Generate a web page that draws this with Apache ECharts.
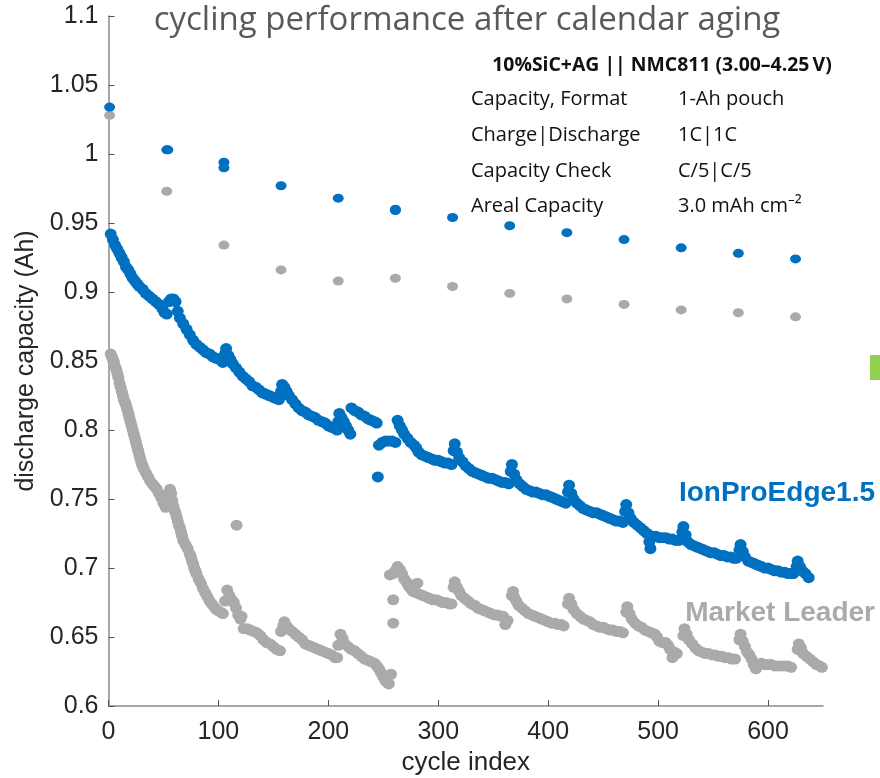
<!DOCTYPE html>
<html><head><meta charset="utf-8">
<script src="https://cdn.jsdelivr.net/npm/echarts@6/dist/echarts.min.js"></script>
<style>html,body{margin:0;padding:0;background:#fff}#c{width:880px;height:778px}</style>
</head><body><div id="c"></div>
<script>
// ---- axis ticks ----
const xTicks = [0, 100, 200, 300, 400, 500, 600];
const yTicks = [0.6, 0.65, 0.7, 0.75, 0.8, 0.85, 0.9, 0.95, 1, 1.05, 1.1];
const yTickLabels = ['0.6', '0.65', '0.7', '0.75', '0.8', '0.85', '0.9', '0.95', '1', '1.05', '1.1'];

// ---- texts ----
const titleText = 'cycling performance after calendar aging';
const xAxisName = 'cycle index';
const yAxisName = 'discharge capacity (Ah)';
const boxHeader = '10%SiC+AG || NMC811 (3.00\u20134.25\u2009V)';
const boxLabels = ['Capacity, Format', 'Charge|Discharge', 'Capacity Check', 'Areal Capacity'];
const boxValues = ['1-Ah pouch', '1C|1C', 'C/5|C/5', '3.0 mAh cm\u207B\u00B2'];
const seriesNames = ['IonProEdge1.5', 'Market Leader'];

// ---- capacity checks (C/5) [cycle, Ah] ----
const blueCheck = [[1,1.034],[53,1.003],[54,1.003],[105,0.994],[105,0.990],[157,0.977],[209,0.968],[261,0.960],[261,0.959],[313,0.954],[365,0.948],[417,0.943],[469,0.938],[521,0.932],[573,0.928],[625,0.924]];
const grayCheck = [[1,1.028],[53,0.973],[105,0.934],[157,0.916],[209,0.908],[261,0.910],[313,0.904],[365,0.899],[417,0.895],[469,0.891],[521,0.887],[573,0.885],[625,0.882]];

// ---- 1C cycling, IonProEdge1.5 [cycle, Ah] ----
const blueCycling = [[2,0.942],[4,0.938],[6,0.934],[8,0.931],[10,0.928],[12,0.925],[14,0.922],[16,0.918],[18,0.916],[20,0.913],[22,0.910],[24,0.908],[26,0.906],[28,0.904],[31,0.902],[34,0.899],[37,0.897],[40,0.895],[43,0.893],[46,0.891],[49,0.888],[51,0.885],[53,0.884],[55,0.893],[57,0.895],[59,0.895],[61,0.893],[63,0.886],[65,0.881],[68,0.877],[71,0.873],[74,0.869],[77,0.865],[80,0.862],[83,0.860],[86,0.858],[89,0.856],[92,0.855],[95,0.853],[98,0.852],[101,0.851],[104,0.849],[106,0.855],[107,0.859],[109,0.854],[111,0.851],[113,0.848],[116,0.845],[119,0.842],[122,0.839],[125,0.837],[128,0.835],[131,0.832],[134,0.831],[137,0.829],[140,0.827],[143,0.826],[146,0.825],[149,0.824],[152,0.823],[155,0.822],[157,0.828],[158,0.833],[160,0.831],[162,0.828],[164,0.825],[167,0.822],[170,0.819],[173,0.816],[176,0.814],[179,0.813],[182,0.811],[185,0.810],[188,0.809],[191,0.807],[194,0.806],[197,0.805],[200,0.803],[203,0.802],[206,0.801],[208,0.800],[209,0.806],[210,0.812],[212,0.809],[214,0.806],[216,0.803],[218,0.800],[220,0.797],[221,0.816],[224,0.814],[227,0.813],[230,0.811],[233,0.810],[236,0.808],[239,0.807],[242,0.806],[244,0.805],[245,0.766],[246,0.789],[249,0.791],[252,0.792],[255,0.792],[258,0.792],[261,0.791],[263,0.807],[265,0.803],[267,0.800],[269,0.797],[272,0.794],[275,0.791],[278,0.789],[280,0.787],[282,0.784],[285,0.782],[288,0.781],[291,0.780],[294,0.779],[297,0.778],[300,0.778],[303,0.777],[306,0.776],[309,0.776],[312,0.775],[314,0.785],[315,0.790],[317,0.784],[319,0.780],[322,0.777],[325,0.774],[328,0.772],[331,0.770],[334,0.769],[337,0.768],[340,0.767],[343,0.766],[346,0.765],[349,0.765],[352,0.764],[355,0.763],[358,0.762],[361,0.762],[364,0.761],[366,0.770],[367,0.775],[369,0.768],[371,0.764],[374,0.761],[377,0.759],[380,0.757],[383,0.756],[386,0.755],[389,0.755],[392,0.754],[395,0.753],[398,0.753],[401,0.752],[404,0.751],[407,0.750],[410,0.749],[413,0.748],[416,0.747],[418,0.755],[419,0.760],[421,0.754],[423,0.750],[426,0.747],[429,0.745],[432,0.743],[435,0.742],[438,0.741],[441,0.740],[444,0.740],[447,0.739],[450,0.738],[453,0.737],[456,0.736],[459,0.735],[462,0.734],[465,0.734],[468,0.733],[470,0.741],[471,0.746],[473,0.740],[475,0.736],[478,0.733],[481,0.731],[484,0.729],[487,0.727],[490,0.725],[492,0.719],[493,0.714],[495,0.723],[498,0.723],[501,0.722],[504,0.722],[507,0.722],[510,0.721],[513,0.721],[516,0.720],[519,0.720],[522,0.726],[523,0.730],[525,0.724],[527,0.719],[530,0.717],[533,0.716],[536,0.715],[539,0.714],[542,0.713],[545,0.712],[548,0.711],[551,0.711],[554,0.710],[557,0.709],[560,0.709],[563,0.708],[566,0.708],[569,0.707],[571,0.707],[574,0.713],[575,0.717],[577,0.712],[579,0.708],[582,0.705],[585,0.704],[588,0.703],[591,0.702],[594,0.701],[597,0.700],[600,0.700],[603,0.699],[606,0.698],[609,0.698],[612,0.697],[615,0.697],[618,0.696],[621,0.696],[623,0.696],[626,0.701],[627,0.705],[629,0.701],[631,0.698],[634,0.696],[637,0.693]];

// ---- 1C cycling, Market Leader [cycle, Ah] ----
const grayCycling = [[2,0.855],[3,0.853],[4,0.851],[5,0.849],[6,0.846],[7,0.844],[8,0.841],[9,0.838],[10,0.834],[11,0.831],[12,0.828],[13,0.825],[14,0.822],[15,0.820],[16,0.818],[17,0.815],[18,0.812],[19,0.809],[20,0.806],[21,0.803],[22,0.800],[23,0.797],[24,0.794],[25,0.791],[26,0.788],[27,0.785],[28,0.782],[29,0.779],[30,0.776],[31,0.774],[32,0.772],[34,0.769],[36,0.766],[38,0.763],[40,0.761],[42,0.759],[44,0.757],[46,0.754],[48,0.751],[50,0.747],[52,0.744],[53,0.745],[54,0.749],[55,0.754],[56,0.757],[57,0.754],[58,0.749],[59,0.745],[60,0.742],[61,0.740],[62,0.737],[63,0.734],[64,0.731],[65,0.729],[66,0.726],[67,0.723],[68,0.720],[70,0.717],[72,0.714],[74,0.710],[75,0.708],[76,0.705],[77,0.703],[78,0.700],[79,0.698],[80,0.696],[82,0.692],[84,0.689],[86,0.685],[88,0.682],[90,0.679],[92,0.676],[94,0.674],[96,0.672],[98,0.670],[100,0.669],[102,0.668],[104,0.667],[106,0.676],[108,0.684],[110,0.680],[112,0.677],[114,0.675],[116,0.671],[116.5,0.731],[118,0.666],[120,0.663],[121,0.665],[123,0.656],[126,0.656],[129,0.655],[132,0.654],[135,0.653],[138,0.651],[141,0.648],[144,0.646],[147,0.645],[150,0.643],[153,0.641],[156,0.640],[157,0.654],[159,0.658],[160,0.661],[162,0.658],[164,0.656],[167,0.654],[170,0.652],[173,0.650],[176,0.648],[179,0.645],[182,0.644],[185,0.643],[188,0.642],[191,0.641],[194,0.640],[197,0.639],[200,0.638],[203,0.637],[206,0.635],[208,0.635],[209,0.644],[211,0.652],[213,0.649],[215,0.645],[218,0.643],[221,0.641],[224,0.640],[227,0.638],[230,0.636],[233,0.634],[236,0.633],[239,0.632],[242,0.631],[244,0.629],[246,0.627],[248,0.624],[250,0.621],[252,0.618],[254,0.617],[255,0.616],[257,0.623],[259,0.660],[259,0.677],[256,0.695],[259,0.696],[261,0.698],[263,0.701],[265,0.699],[267,0.696],[269,0.692],[271,0.690],[273,0.687],[275,0.685],[277,0.683],[279,0.688],[281,0.689],[280,0.682],[283,0.681],[286,0.680],[289,0.679],[292,0.678],[295,0.677],[298,0.677],[301,0.676],[304,0.675],[307,0.675],[310,0.674],[312,0.674],[314,0.686],[315,0.690],[317,0.686],[319,0.683],[321,0.680],[324,0.678],[327,0.676],[330,0.674],[333,0.673],[336,0.671],[339,0.670],[342,0.669],[345,0.668],[348,0.667],[351,0.666],[354,0.666],[357,0.665],[359,0.665],[361,0.659],[363,0.662],[367,0.680],[368,0.683],[369,0.679],[371,0.676],[373,0.673],[376,0.671],[379,0.669],[382,0.667],[385,0.666],[388,0.665],[391,0.664],[394,0.663],[397,0.662],[400,0.661],[403,0.660],[406,0.660],[409,0.659],[412,0.659],[414,0.658],[418,0.674],[419,0.678],[421,0.674],[423,0.670],[426,0.667],[429,0.665],[432,0.663],[435,0.662],[438,0.661],[441,0.659],[444,0.658],[447,0.657],[450,0.657],[453,0.656],[456,0.655],[459,0.655],[462,0.654],[465,0.654],[468,0.653],[471,0.668],[472,0.672],[474,0.667],[476,0.663],[479,0.660],[482,0.658],[485,0.657],[488,0.655],[491,0.654],[494,0.653],[497,0.652],[499,0.650],[501,0.647],[504,0.646],[507,0.646],[509,0.644],[511,0.641],[513,0.635],[515,0.639],[517,0.638],[523,0.651],[524,0.656],[526,0.652],[528,0.648],[531,0.645],[534,0.642],[537,0.640],[540,0.639],[543,0.638],[546,0.638],[549,0.637],[552,0.637],[555,0.636],[558,0.636],[561,0.635],[564,0.635],[567,0.634],[570,0.634],[574,0.648],[575,0.652],[577,0.647],[579,0.643],[581,0.639],[583,0.637],[585,0.634],[587,0.630],[589,0.627],[591,0.630],[594,0.631],[597,0.630],[600,0.630],[603,0.630],[606,0.629],[609,0.629],[612,0.629],[615,0.629],[618,0.629],[621,0.628],[627,0.641],[628,0.645],[630,0.642],[632,0.638],[635,0.636],[638,0.634],[641,0.632],[644,0.630],[647,0.629],[649,0.628]];

const BLUE = '#0070c0', GRAY = '#aaaaaa', AXIS = '#8a8a8a', TXT = '#262626';
const AX_FONT = '"Liberation Sans", Arial, sans-serif';
const BOX_FONT = '"Open Sans", "Noto Sans", sans-serif';

function sc(name, data, color, z, size) {
  return { type: 'scatter', name, data, symbol: 'circle', symbolSize: size, z,
    itemStyle: { color, opacity: 1 }, emphasis: { disabled: true }, silent: true, clip: false };
}

const graphic = [
  { type: 'text', x: 467, y: 21, z: 10, style: { text: titleText, font: '33px ' + BOX_FONT, fill: '#595959', textAlign: 'center', textVerticalAlign: 'middle', align: 'center', verticalAlign: 'middle' } },
  { type: 'text', x: 662, y: 65, z: 10, style: { text: boxHeader, font: 'bold 19.4px ' + BOX_FONT, fill: '#111', textAlign: 'center', textVerticalAlign: 'middle', align: 'center', verticalAlign: 'middle' } },
  { type: 'rect', shape: { x: 870, y: 355, width: 10, height: 25 }, style: { fill: '#92d050' } },
  { type: 'text', x: 875, y: 493, z: 10, style: { text: seriesNames[0], font: 'bold 28px ' + AX_FONT, fill: BLUE, textAlign: 'right', textVerticalAlign: 'middle', align: 'right', verticalAlign: 'middle' } },
  { type: 'text', x: 875, y: 613, z: 10, style: { text: seriesNames[1], font: 'bold 28px ' + AX_FONT, fill: GRAY, textAlign: 'right', textVerticalAlign: 'middle', align: 'right', verticalAlign: 'middle' } }
];
const rowY = [99, 135, 171, 206];
boxLabels.forEach((t, i) => {
  graphic.push({ type: 'text', x: 471, y: rowY[i], z: 10, style: { text: t, font: '20px ' + BOX_FONT, fill: '#111', textAlign: 'left', textVerticalAlign: 'middle', align: 'left', verticalAlign: 'middle' } });
  graphic.push({ type: 'text', x: 678, y: rowY[i], z: 10, style: { text: boxValues[i], font: '20px ' + BOX_FONT, fill: '#111', textAlign: 'left', textVerticalAlign: 'middle', align: 'left', verticalAlign: 'middle' } });
});

const chart = echarts.init(document.getElementById('c'), null, { renderer: 'canvas' });
chart.setOption({
  animation: false,
  backgroundColor: '#ffffff',
  grid: { left: 108.5, top: 16, width: 714.5, height: 690, containLabel: false, outerBoundsMode: 'none' },
  xAxis: {
    type: 'value', min: 0, max: 650,
    axisLine: { show: true, onZero: false, lineStyle: { color: AXIS, width: 1.5 } },
    axisTick: { show: true, inside: true, length: 6, customValues: xTicks, lineStyle: { color: '#555', width: 1 } },
    axisLabel: { customValues: xTicks, fontSize: 25, color: TXT, fontFamily: AX_FONT, margin: 14 },
    splitLine: { show: false },
    name: xAxisName, nameLocation: 'middle', nameGap: 44,
    nameTextStyle: { fontSize: 26, color: TXT, fontFamily: AX_FONT }
  },
  yAxis: {
    type: 'value', min: 0.6, max: 1.1,
    axisLine: { show: true, onZero: false, lineStyle: { color: AXIS, width: 1.5 } },
    axisTick: { show: true, inside: true, length: 6, customValues: yTicks, lineStyle: { color: '#555', width: 1 } },
    axisLabel: { customValues: yTicks, fontSize: 25, color: TXT, fontFamily: AX_FONT, margin: 10,
      formatter: v => { let best = 0; yTicks.forEach((t, i) => { if (Math.abs(t - v) < Math.abs(yTicks[best] - v)) best = i; }); return yTickLabels[best]; } },
    splitLine: { show: false },
    name: yAxisName, nameLocation: 'middle', nameGap: 64, nameRotate: 90,
    nameTextStyle: { fontSize: 25, color: TXT, fontFamily: AX_FONT }
  },
  series: [
    sc('Market Leader check', grayCheck, GRAY, 2, [11, 9]),
    sc(seriesNames[1], grayCycling, GRAY, 2, [12, 11]),
    sc('IonProEdge1.5 check', blueCheck, BLUE, 3, [11, 9]),
    sc(seriesNames[0], blueCycling, BLUE, 3, [12, 11])
  ],
  graphic
});
</script></body></html>
